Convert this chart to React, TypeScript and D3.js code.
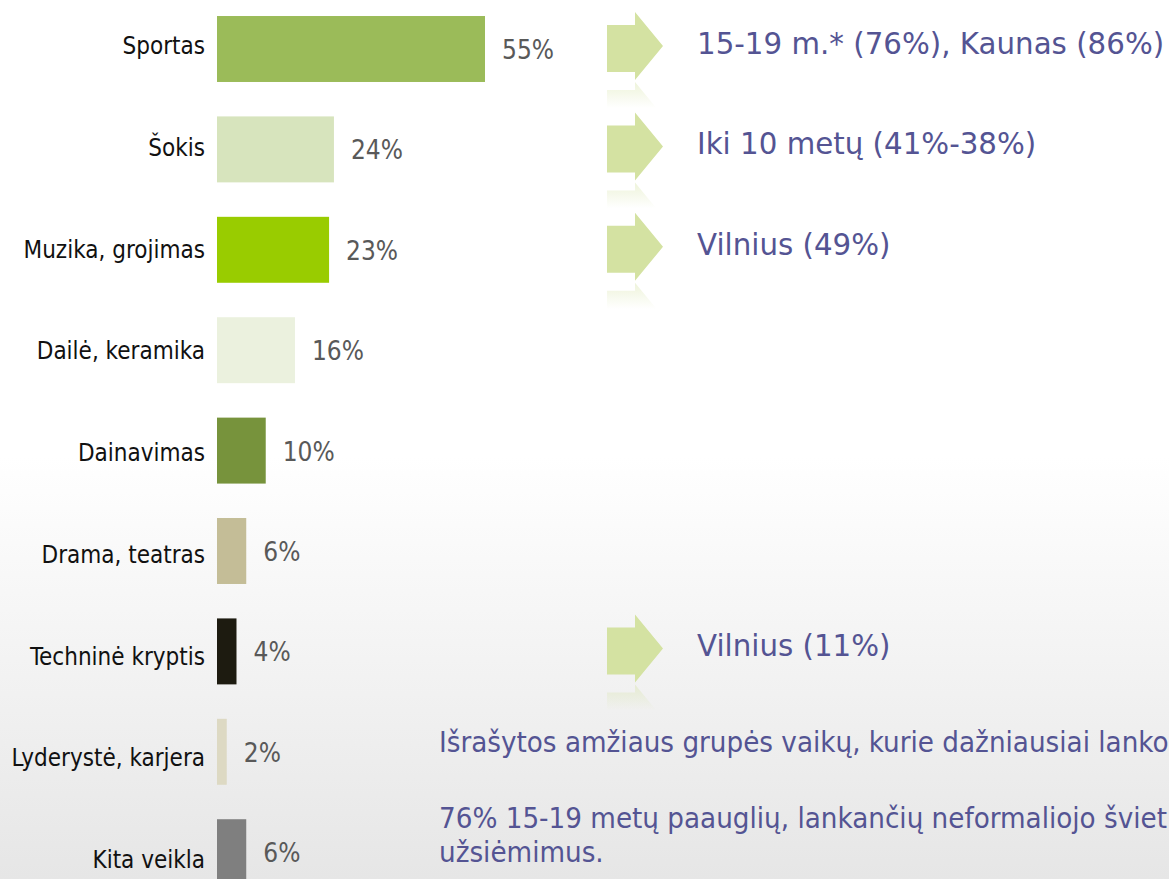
import React from "react";
import * as d3 from "d3";

const categories = [
  "Sportas",
  "Šokis",
  "Muzika, grojimas",
  "Dailė, keramika",
  "Dainavimas",
  "Drama, teatras",
  "Techninė kryptis",
  "Lyderystė, karjera",
  "Kita veikla",
];
const values = [55, 24, 23, 16, 10, 6, 4, 2, 6];
const barColors = [
  "#9BBB59",
  "#D7E4BD",
  "#99CC00",
  "#EBF1DE",
  "#77933C",
  "#C4BD97",
  "#1D1B10",
  "#DDD9C3",
  "#7F7F7F",
];
const annotationRows = [0, 1, 2, 6];
const annotationTexts = [
  "15-19 m.* (76%), Kaunas (86%)",
  "Iki 10 metų (41%-38%)",
  "Vilnius (49%)",
  "Vilnius (11%)",
];
const noteLines = [
  "Išrašytos amžiaus grupės vaikų, kurie dažniausiai lanko",
  "76% 15-19 metų paauglių, lankančių neformaliojo šviet",
  "užsiėmimus.",
];

const W = 1169;
const H = 879;
const COND = "'DejaVu Sans Condensed', 'DejaVu Sans', sans-serif";
const WIDE = "'DejaVu Sans', Verdana, sans-serif";
const ANN_COLOR = "#545493";
const ARROW = "#D4E2A2";

export default function App() {
  const x = d3.scaleLinear().domain([0, 55]).range([217, 485]);
  const y = d3
    .scaleBand<string>()
    .domain(categories)
    .range([-1.2, 902.4])
    .paddingInner(0.343)
    .paddingOuter(0.1715);
  const labelY = d3.scalePoint<string>().domain(categories).range([46, 860]);

  const arrowPath = (cy: number) => {
    const p = d3.path();
    p.moveTo(607, cy - 21);
    p.lineTo(635, cy - 21);
    p.lineTo(635, cy - 34);
    p.lineTo(663, cy);
    p.lineTo(635, cy + 34);
    p.lineTo(635, cy + 26);
    p.lineTo(607, cy + 26);
    p.closePath();
    return p.toString();
  };
  const arrowCy = (r: number) =>
    (y(categories[r]) as number) + y.bandwidth() / 2 - 3;

  return (
    <svg
      width={W}
      height={H}
      style={{ position: "absolute", left: 0, top: 0, display: "block" }}
    >
      <defs>
        <linearGradient id="bg" x1="0" y1="0" x2="0" y2="1">
          <stop offset="0" stopColor="#ffffff" />
          <stop offset="0.52" stopColor="#ffffff" />
          <stop offset="1" stopColor="#e6e6e6" />
        </linearGradient>
        <filter id="soft" x="-10%" y="-10%" width="120%" height="120%">
          <feGaussianBlur stdDeviation="0.6" />
        </filter>
        {annotationRows.map((r, i) => {
          const cy = arrowCy(r);
          return (
            <linearGradient
              key={i}
              id={`refl${i}`}
              gradientUnits="userSpaceOnUse"
              x1="0"
              y1={cy + 34}
              x2="0"
              y2={cy + 8}
            >
              <stop offset="0" stopColor={ARROW} stopOpacity="0.4" />
              <stop offset="1" stopColor={ARROW} stopOpacity="0" />
            </linearGradient>
          );
        })}
      </defs>
      <rect x={0} y={0} width={W} height={H} fill="url(#bg)" />

      {categories.map((c, i) => (
        <g key={c}>
          <rect
            x={x(0)}
            y={y(c)}
            width={x(values[i]) - x(0)}
            height={y.bandwidth()}
            fill={barColors[i]}
          />
          <text
            x={205}
            y={labelY(c)}
            textAnchor="end"
            dominantBaseline="central"
            fontFamily={COND}
            fontStretch="condensed"
            fontSize={24}
            fill="#111"
          >
            {c}
          </text>
          <text
            x={x(values[i]) + 17}
            y={(y(c) as number) + y.bandwidth() / 2 + 1}
            dominantBaseline="central"
            fontFamily={COND}
            fontStretch="condensed"
            fontSize={26}
            fill="#595959"
          >
            {values[i]}%
          </text>
        </g>
      ))}

      {annotationRows.map((r, i) => {
        const cy = arrowCy(r);
        return (
          <g key={i}>
            <g transform={`translate(0, ${2 * (cy + 34) + 2}) scale(1, -1)`}>
              <path d={arrowPath(cy)} fill={`url(#refl${i})`} />
            </g>
            <path d={arrowPath(cy)} fill={ARROW} filter="url(#soft)" />
            <text
              x={697}
              y={cy + 8}
              fontFamily={WIDE}
              fontSize={29.3}
              fill={ANN_COLOR}
            >
              {annotationTexts[i]}
            </text>
          </g>
        );
      })}

      {noteLines.map((t, i) => (
        <text
          key={i}
          x={439}
          y={[752, 828, 862][i]}
          fontFamily={COND}
          fontStretch="condensed"
          fontSize={29.2}
          fill={ANN_COLOR}
        >
          {t}
        </text>
      ))}
    </svg>
  );
}
